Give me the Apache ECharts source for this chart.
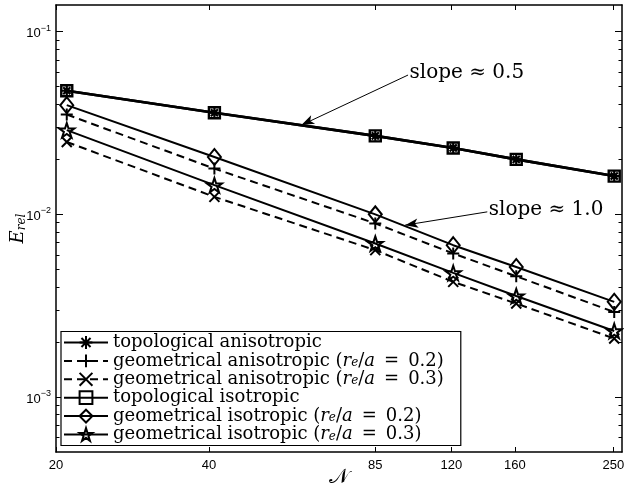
<!DOCTYPE html>
<html>
<head>
<meta charset="utf-8">
<script src="https://cdn.jsdelivr.net/npm/echarts@6/dist/echarts.min.js"></script>
<style>
  html, body { margin: 0; padding: 0; background: #fff; }
  #chart { width: 624px; height: 488px; }
</style>
</head>
<body>
<div id="chart"></div>
<script>
// Mesh resolutions N and relative errors E_rel
const meshSizes = [21, 41, 85, 121, 161, 251];

const topoAniso  = [0.0475, 0.0360, 0.0269, 0.0231, 0.0200, 0.0162];
const geoAniso02 = [0.0352, 0.0178, 0.00892, 0.00611, 0.00458, 0.00292];
const geoAniso03 = [0.0249, 0.01247, 0.00637, 0.00427, 0.00325, 0.00209];
const topoIso    = [0.0475, 0.0360, 0.0269, 0.0231, 0.0200, 0.0162];
const geoIso02   = [0.0396, 0.0206, 0.0100, 0.00678, 0.00515, 0.00332];
const geoIso03   = [0.0289, 0.01445, 0.00692, 0.00478, 0.00357, 0.00230];

const seriesNames = [
  'topological anisotropic',
  'geometrical anisotropic (r_e/a = 0.2)',
  'geometrical anisotropic (r_e/a = 0.3)',
  'topological isotropic',
  'geometrical isotropic (r_e/a = 0.2)',
  'geometrical isotropic (r_e/a = 0.3)'
];

// Axis ticks
const xTickValues = [20, 40, 85, 120, 160, 250];
const yTickValues = [0.001, 0.01, 0.1];
const yMinorTickValues = [
  6e-4, 7e-4, 8e-4, 9e-4,
  2e-3, 3e-3, 4e-3, 5e-3, 6e-3, 7e-3, 8e-3, 9e-3,
  2e-2, 3e-2, 4e-2, 5e-2, 6e-2, 7e-2, 8e-2, 9e-2
];

// Slope annotations: label anchor (arrow tail) and arrow tip, in data units
const slopeNotes = [
  { text: 'slope \u2248 0.5', from: [98.6, 0.0579], to: [60.8, 0.0308] },
  { text: 'slope \u2248 1.0', from: [141.2, 0.01032], to: [97.3, 0.00873] }
];

const SERIF = 'DejaVu Serif';
const SANS = 'Liberation Sans';

const SYM = {
  asterisk: 'path://M0,-1L0,1M-1,0L1,0M-0.71,-0.71L0.71,0.71M-0.71,0.71L0.71,-0.71',
  plus: 'path://M0,-1L0,1M-1,0L1,0',
  cross: 'path://M-1,-1L1,1M-1,1L1,-1',
  square: 'path://M-1,-1L1,-1L1,1L-1,1Z',
  diamond: 'path://M0,-1L1,0L0,1L-1,0Z',
  star: 'path://M0,-1L0.225,-0.309L0.951,-0.309L0.363,0.118L0.588,0.809L0,0.382L-0.588,0.809L-0.363,0.118L-0.951,-0.309L-0.225,-0.309Z'
};

function pairs(values) {
  return meshSizes.map((n, i) => [n, values[i]]);
}

function lineSeries(name, values, symbol, size, dashed, width, z, markerWidth) {
  return {
    type: 'line',
    name: name,
    data: pairs(values),
    symbol: symbol,
    symbolSize: size,
    symbolKeepAspect: true,
    showAllSymbol: true,
    z: z,
    lineStyle: { color: '#000', width: width, type: dashed ? [8, 5] : 'solid' },
    itemStyle: { color: 'none', borderColor: '#000', borderWidth: markerWidth || 2 },
    emphasis: { disabled: true },
    animation: false
  };
}

// Legend text: italic r, subscript e and italic a inside the parentheses
function richName(name) {
  const m = name.match(/^(.*)\(r_e\/a = (.*)\)$/);
  if (!m) return name;
  return m[1] + '({i|r}{s|e}/{i|a}\u2002=\u2002' + m[2] + ')';
}

const series = [
  lineSeries(seriesNames[3], topoIso, SYM.square, 11, false, 2.6, 2, 2.4),
  lineSeries(seriesNames[0], topoAniso, SYM.asterisk, 10, false, 2.6, 3, 2.2),
  lineSeries(seriesNames[1], geoAniso02, SYM.plus, 12, true, 2, 2),
  lineSeries(seriesNames[2], geoAniso03, SYM.cross, 10, true, 2, 2),
  lineSeries(seriesNames[4], geoIso02, SYM.diamond, [13, 16], false, 2, 2),
  lineSeries(seriesNames[5], geoIso03, SYM.star, 15, false, 2, 2)
];

// Arrows and their texts ride on the first series
series[0].markLine = {
  silent: true,
  animation: false,
  symbol: ['none', 'arrow'],
  symbolSize: [7, 13],
  label: { show: false },
  itemStyle: { color: '#000' },
  lineStyle: { color: '#000', width: 1, type: 'solid' },
  emphasis: { disabled: true },
  data: slopeNotes.map(n => [{ coord: n.from }, { coord: n.to }])
};
series[0].markPoint = {
  silent: true,
  animation: false,
  symbol: 'circle',
  symbolSize: 1,
  itemStyle: { color: 'rgba(0,0,0,0)' },
  label: {
    show: true, position: 'right', distance: 1, offset: [0, -2],
    color: '#000', fontFamily: SERIF, fontSize: 20
  },
  data: slopeNotes.map(n => ({ coord: n.from, label: { formatter: n.text } }))
};

const axisLineStyle = { color: '#000', width: 1.5 };

function xAxisDef(pos, labels) {
  return {
    type: 'log', logBase: 10, min: 20, max: 260, position: pos,
    axisLine: { show: true, onZero: false, lineStyle: axisLineStyle },
    axisTick: { show: true, inside: true, length: 5, customValues: xTickValues, lineStyle: { color: '#000', width: 1 } },
    axisLabel: labels ? {
      show: true, customValues: xTickValues, color: '#000', fontFamily: SANS, fontSize: 13, margin: 7,
      formatter: v => String(Math.round(v))
    } : { show: false },
    splitLine: { show: false },
    minorTick: { show: false }
  };
}

function yAxisDef(pos, minor, labels) {
  return {
    type: 'log', logBase: 10, min: 5e-4, max: 0.14, position: pos,
    axisLine: { show: !minor, onZero: false, lineStyle: axisLineStyle },
    axisTick: {
      show: true, inside: true, length: minor ? 3.5 : 7,
      customValues: minor ? yMinorTickValues : yTickValues,
      lineStyle: { color: '#000', width: 1 }
    },
    axisLabel: labels ? {
      show: true, customValues: yTickValues, margin: 5, color: '#000',
      formatter: v => {
        const e = Math.round(Math.log10(v));
        return '{b|10}{p|' + (e < 0 ? '\u2212' : '') + Math.abs(e) + '}';
      },
      rich: {
        b: { fontFamily: SANS, fontSize: 13, color: '#000', lineHeight: 16, padding: [4, 0, 0, 0] },
        p: { fontFamily: SANS, fontSize: 9, color: '#000', lineHeight: 9, verticalAlign: 'top' }
      }
    } : { show: false },
    splitLine: { show: false },
    minorTick: { show: false }
  };
}

const chart = echarts.init(document.getElementById('chart'), null, { renderer: 'canvas' });

const xMain = xAxisDef('bottom', true);
xMain.name = '\uD835\uDCA9';
xMain.nameLocation = 'middle';
xMain.nameGap = 15;
xMain.nameMoveOverlap = false;
xMain.nameTextStyle = { fontFamily: SERIF, fontSize: 21, color: '#000' };

const yMain = yAxisDef('left', false, true);
yMain.name = '{e|E}{s|rel}';
yMain.nameLocation = 'middle';
yMain.nameRotate = 90;
yMain.nameGap = 28;
yMain.nameMoveOverlap = false;
yMain.nameTextStyle = {
  rich: {
    e: { fontFamily: SERIF, fontStyle: 'italic', fontSize: 18, color: '#000', lineHeight: 20 },
    s: { fontFamily: SERIF, fontStyle: 'italic', fontSize: 12, color: '#000', lineHeight: 10, verticalAlign: 'bottom' }
  }
};

chart.setOption({
  backgroundColor: '#fff',
  animation: false,
  grid: { left: 56, right: 2, top: 5, bottom: 36, containLabel: false, outerBoundsMode: 'none' },
  xAxis: [xMain, xAxisDef('top', false)],
  yAxis: [yMain, yAxisDef('left', true, false), yAxisDef('right', false, false), yAxisDef('right', true, false)],
  legend: {
    data: seriesNames,
    orient: 'vertical',
    left: 61,
    top: 331.5,
    itemWidth: 44,
    itemHeight: 16,
    itemGap: 0.4,
    padding: [2, 17, 2, 2],
    borderColor: '#000',
    borderWidth: 1.2,
    borderRadius: 0,
    backgroundColor: '#fff',
    selectedMode: false,
    itemStyle: { borderWidth: 2 },
    formatter: richName,
    textStyle: {
      fontFamily: SERIF, fontSize: 18, color: '#000', lineHeight: 16,
      rich: {
        i: { fontFamily: SERIF, fontStyle: 'italic', fontSize: 18, color: '#000', lineHeight: 16 },
        s: { fontFamily: SERIF, fontStyle: 'italic', fontSize: 12, color: '#000', lineHeight: 9, verticalAlign: 'bottom' }
      }
    }
  },
  series: series
});
</script>
</body>
</html>
